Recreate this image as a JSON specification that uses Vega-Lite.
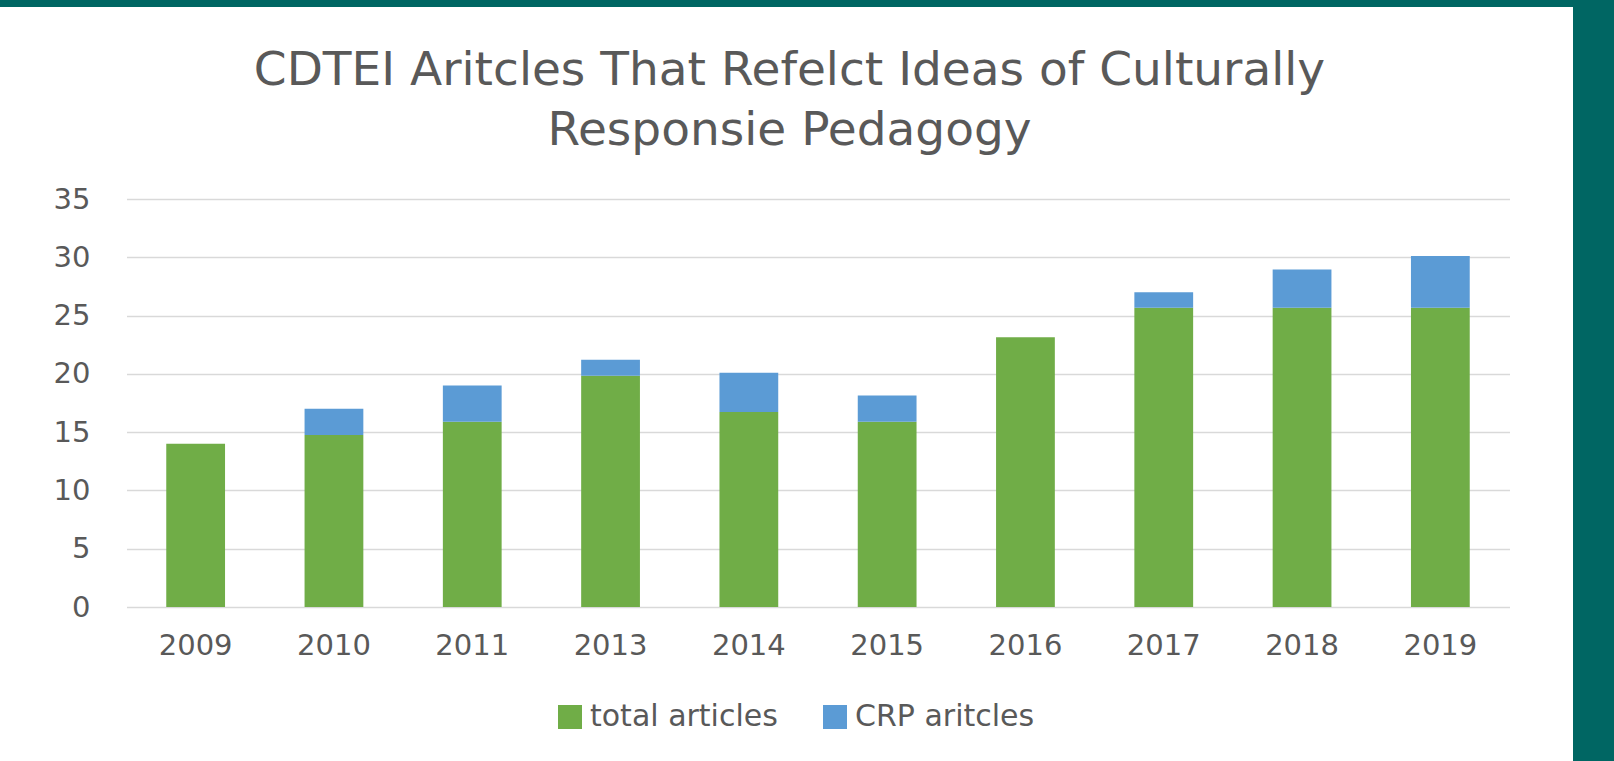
{
  "$schema": "https://vega.github.io/schema/vega-lite/v6.json",
  "autosize": {"type": "none"},
  "width": 1573,
  "height": 754,
  "padding": {"left": 0, "top": 7, "right": 41, "bottom": 0},
  "background": "#006663",
  "config": {
    "view": {"fill": "#FFFFFF", "stroke": null},
    "font": "DejaVu Sans"
  },
  "title": {
    "text": ["CDTEI Aritcles That Refelct Ideas of Culturally", "Responsie Pedagogy"],
    "font": "DejaVu Sans",
    "fontSize": 47,
    "fontWeight": "normal",
    "color": "#595959",
    "anchor": "middle",
    "frame": "group",
    "baseline": "alphabetic",
    "lineHeight": 60,
    "offset": -74.7,
    "dx": 3,
    "dy": 110
  },
  "data": {
    "values": [
      {"year": "2009", "series": "total articles", "value": 14},
      {"year": "2009", "series": "CRP aritcles", "value": 0},
      {"year": "2010", "series": "total articles", "value": 14.75},
      {"year": "2010", "series": "CRP aritcles", "value": 2.25},
      {"year": "2011", "series": "total articles", "value": 15.9},
      {"year": "2011", "series": "CRP aritcles", "value": 3.1},
      {"year": "2013", "series": "total articles", "value": 19.83},
      {"year": "2013", "series": "CRP aritcles", "value": 1.37},
      {"year": "2014", "series": "total articles", "value": 16.73},
      {"year": "2014", "series": "CRP aritcles", "value": 3.37},
      {"year": "2015", "series": "total articles", "value": 15.9},
      {"year": "2015", "series": "CRP aritcles", "value": 2.25},
      {"year": "2016", "series": "total articles", "value": 23.13},
      {"year": "2016", "series": "CRP aritcles", "value": 0},
      {"year": "2017", "series": "total articles", "value": 25.67},
      {"year": "2017", "series": "CRP aritcles", "value": 1.32},
      {"year": "2018", "series": "total articles", "value": 25.67},
      {"year": "2018", "series": "CRP aritcles", "value": 3.29},
      {"year": "2019", "series": "total articles", "value": 25.67},
      {"year": "2019", "series": "CRP aritcles", "value": 4.43}
    ]
  },
  "mark": {"type": "bar"},
  "encoding": {
    "x": {
      "field": "year",
      "type": "nominal",
      "scale": {"range": [126.5, 1509.5], "paddingInner": 0.575, "paddingOuter": 0.2875},
      "axis": {
        "title": null,
        "labelAngle": 0,
        "orient": "bottom",
        "offset": -154,
        "domain": false,
        "ticks": false,
        "tickSize": 0,
        "grid": false,
        "labelPadding": 24,
        "labelFont": "DejaVu Sans",
        "labelFontSize": 29,
        "labelColor": "#595959"
      }
    },
    "y": {
      "field": "value",
      "type": "quantitative",
      "stack": "zero",
      "scale": {"domain": [0, 35], "range": [600, 192], "nice": false},
      "axis": {
        "title": null,
        "values": [0, 5, 10, 15, 20, 25, 30, 35],
        "offset": -126.5,
        "labelPadding": 36.5,
        "domain": false,
        "ticks": false,
        "tickSize": 0,
        "grid": true,
        "gridColor": "#D9D9D9",
        "gridWidth": 1.5,
        "labelFont": "DejaVu Sans",
        "labelFontSize": 29,
        "labelColor": "#595959"
      }
    },
    "color": {
      "field": "series",
      "type": "nominal",
      "scale": {"domain": ["total articles", "CRP aritcles"], "range": ["#70AD47", "#5B9BD5"]},
      "legend": {
        "title": null,
        "orient": "none",
        "direction": "horizontal",
        "legendX": 555,
        "legendY": 695,
        "symbolType": "square",
        "symbolSize": 576,
        "symbolStrokeWidth": 0,
        "labelFont": "DejaVu Sans",
        "labelFontSize": 30,
        "labelColor": "#595959",
        "labelOffset": 5,
        "labelLimit": 400,
        "columnPadding": 42
      }
    },
    "order": {"field": "series", "sort": "descending"}
  }
}
